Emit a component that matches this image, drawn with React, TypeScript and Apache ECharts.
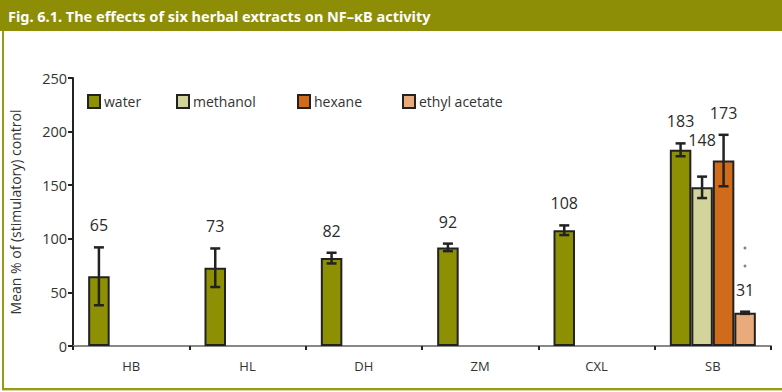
import React, { useEffect, useRef } from "react";
import * as echarts from "echarts";

const categories = ["HB", "HL", "DH", "ZM", "CXL", "SB"];
const seriesNames = ["water", "methanol", "hexane", "ethyl acetate"];
const water = [65, 73, 82, 92, 108, 183];
const methanol = [null, null, null, null, null, 148];
const hexane = [null, null, null, null, null, 173];
const ethylAcetate = [null, null, null, null, null, 31];
const waterErr = [27, 18, 5, 3.5, 4.5, 6];
const methanolErr = [null, null, null, null, null, 10];
const hexaneErr = [null, null, null, null, null, 24];
const ethylAcetateErr = [null, null, null, null, null, 1];
const yTicks = [0, 50, 100, 150, 200, 250];

const values = [water, methanol, hexane, ethylAcetate];
const errors = [waterErr, methanolErr, hexaneErr, ethylAcetateErr];
const colors = ["#8e9003", "#d3d39c", "#cf6b1b", "#e9aa7c"];
const BAR_W = 21.5;
const FONT = "'Open Sans', 'Noto Sans', sans-serif";
const labelExtraLift: Record<string, number> = { "1-5": 15 };

export default function App() {
  const ref = useRef<HTMLDivElement>(null);
  useEffect(() => {
    document.body.style.margin = "0";
    const chart = echarts.init(ref.current!, null, { renderer: "svg" });

    const barSeries = seriesNames.map((name, k) => ({
      name,
      type: "bar",
      data: values[k],
      barWidth: BAR_W,
      barGap: "0%",
      itemStyle: { color: colors[k], borderColor: "#222", borderWidth: 2 },
      z: 2,
    }));

    const errData: number[][] = [];
    values.forEach((vals, k) => {
      vals.forEach((v, i) => {
        const e = errors[k][i];
        if (v != null && e != null) errData.push([i, v as number, e as number, k]);
      });
    });

    const errSeries = {
      type: "custom",
      name: "err",
      data: errData,
      z: 5,
      renderItem: (params: any, api: any) => {
        const i = api.value(0);
        const v = api.value(1);
        const e = api.value(2);
        const k = api.value(3);
        const off = (k - 1.5) * BAR_W;
        const top = api.coord([i, v + e]);
        const bot = api.coord([i, v - e]);
        const x = top[0] + off;
        const cap = 5;
        const st = { stroke: "#222", lineWidth: 2.5 };
        const lift = 22 + (labelExtraLift[k + "-" + i] || 0);
        return {
          type: "group",
          children: [
            { type: "line", shape: { x1: x, y1: top[1], x2: x, y2: bot[1] }, style: st },
            { type: "line", shape: { x1: x - cap, y1: top[1], x2: x + cap, y2: top[1] }, style: st },
            { type: "line", shape: { x1: x - cap, y1: bot[1], x2: x + cap, y2: bot[1] }, style: st },
            {
              type: "text",
              x: x,
              y: top[1] - lift,
              style: {
                text: String(v),
                fill: "#2b2b2b",
                font: `16px ${FONT}`,
                align: "center",
                verticalAlign: "middle",
              },
            },
          ],
        };
      },
    };

    const legendLefts = [82, 171, 292, 397];
    const legends = seriesNames.map((n, k) => ({
      data: [n],
      left: legendLefts[k],
      top: 89,
      icon: "rect",
      itemWidth: 12,
      itemHeight: 13,
      itemGap: 4,
      itemStyle: { borderColor: "#222", borderWidth: 2 },
      textStyle: { fontSize: 14, color: "#333", fontFamily: FONT, padding: [0, 0, 0, -1] },
      selectedMode: false,
    }));

    chart.setOption({
      animation: false,
      backgroundColor: "#fff",
      textStyle: { fontFamily: FONT },
      legend: legends,
      grid: { left: 68, right: 11, top: 78, bottom: 46, containLabel: false },
      xAxis: {
        type: "category",
        data: categories,
        axisLine: { lineStyle: { color: "#888", width: 2 } },
        axisTick: { show: true, length: 4, lineStyle: { color: "#222", width: 2 } },
        axisLabel: { fontSize: 13, color: () => "#333333", margin: 13, fontFamily: FONT },
      },
      yAxis: {
        type: "value",
        min: yTicks[0],
        max: yTicks[yTicks.length - 1],
        interval: 50,
        name: "Mean % of (stimulatory) control",
        nameLocation: "middle",
        nameGap: 51,
        nameTextStyle: { fontSize: 14, color: "#333", fontFamily: FONT },
        axisLine: { show: true, lineStyle: { color: "#222", width: 2 } },
        axisTick: { show: true, length: 5, lineStyle: { color: "#222", width: 2 } },
        axisLabel: { fontSize: 14.5, color: "#333", margin: 6, fontFamily: FONT },
        splitLine: { show: false },
      },
      graphic: [
        { type: "rect", shape: { x: 0, y: 0, width: 782, height: 31 }, style: { fill: "#8e8d06" }, silent: true },
        {
          type: "text",
          x: 8,
          y: 16,
          style: {
            text: "Fig. 6.1. The effects of six herbal extracts on NF\u2013\u03baB activity",
            fill: "#fff",
            font: `bold 14.5px 'Noto Sans', sans-serif`,
            verticalAlign: "middle",
          },
        },
        { type: "rect", shape: { x: 2, y: 31, width: 2, height: 359 }, style: { fill: "#9a9a14" } },
        { type: "rect", shape: { x: 2, y: 388, width: 780, height: 2 }, style: { fill: "#9a9a14" } },
        { type: "rect", shape: { x: 2, y: 390, width: 780, height: 1 }, style: { fill: "#d8d8a0" } },
        { type: "circle", shape: { cx: 745, cy: 248, r: 1.5 }, style: { fill: "#7a8599" } },
        { type: "circle", shape: { cx: 745, cy: 266, r: 1.5 }, style: { fill: "#7a8599" } },
      ],
      series: [...barSeries, errSeries],
    });
    return () => chart.dispose();
  }, []);
  return <div ref={ref} style={{ width: 782, height: 392 }} />;
}
